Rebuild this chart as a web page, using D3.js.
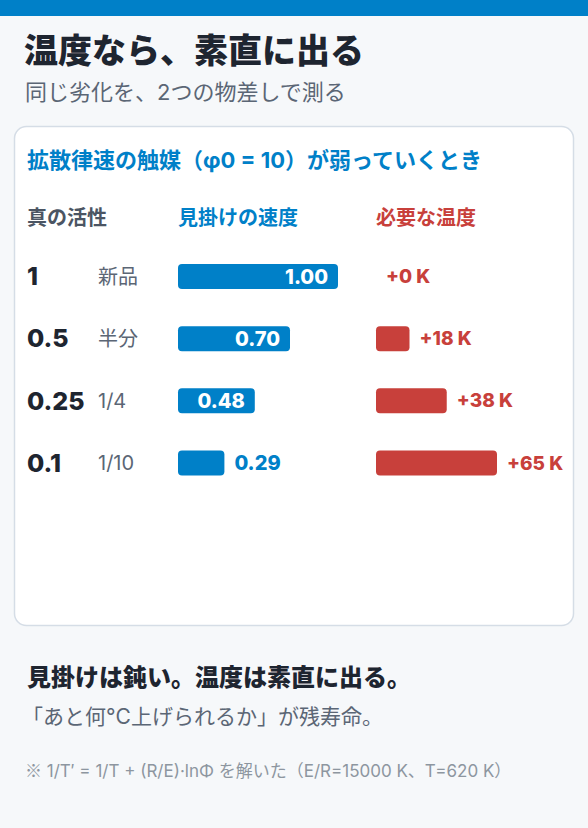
<!DOCTYPE html>
<html>
<head>
<meta charset="utf-8">
<script src="https://cdn.jsdelivr.net/npm/d3@7"></script>
<style>
  body { margin: 0; background: #f6f8fa; }
  svg { display: block; font-family: Inter, "Noto Sans CJK JP", sans-serif; }
</style>
</head>
<body>
<svg id="chart"></svg>
<script>
// chart data
const activity = ["1", "0.5", "0.25", "0.1"];
const activityNote = ["新品", "半分", "1/4", "1/10"];
const apparentRate = [1.00, 0.70, 0.48, 0.29];
const tempRise = [0, 18, 38, 65];
const headers = ["真の活性", "見掛けの速度", "必要な温度"];

const width = 588, height = 828;
const blue = "#0080c8", red = "#c8403b";

const svg = d3.select("#chart")
    .attr("width", width)
    .attr("height", height);

svg.append("rect")
    .attr("width", width).attr("height", height)
    .attr("fill", "#f6f8fa");

// top band
svg.append("rect")
    .attr("width", width).attr("height", 16)
    .attr("fill", blue);

// headline
svg.append("text")
    .attr("x", 24).attr("y", 51)
    .attr("dy", "0.35em")
    .attr("font-size", 34).attr("font-weight", 900)
    .attr("fill", "#1e2530")
    .text("温度なら、素直に出る");

svg.append("text")
    .attr("x", 25).attr("y", 92)
    .attr("dy", "0.35em")
    .attr("font-size", 22)
    .attr("fill", "#5b6675")
    .text("同じ劣化を、2つの物差しで測る");

// card
svg.append("rect")
    .attr("x", 14.5).attr("y", 126.5)
    .attr("width", 559).attr("height", 499)
    .attr("rx", 12)
    .attr("fill", "#fff")
    .attr("stroke", "#d5dde6")
    .attr("stroke-width", 1.5);

svg.append("text")
    .attr("x", 27).attr("y", 160)
    .attr("dy", "0.35em")
    .attr("font-size", 22).attr("font-weight", 700)
    .attr("fill", blue)
    .text("拡散律速の触媒（φ0 = 10）が弱っていくとき");

// column headers
const colX = [27, 178, 376];
const colColor = ["#4b5563", blue, red];
svg.selectAll(".col-head")
    .data(headers)
    .enter().append("text")
    .attr("class", "col-head")
    .attr("x", (d, i) => colX[i])
    .attr("y", 218)
    .attr("dy", "0.35em")
    .attr("font-size", 20).attr("font-weight", 700)
    .attr("fill", (d, i) => colColor[i])
    .text(d => d);

// scales
const y = d3.scalePoint()
    .domain(activity)
    .range([276.5, 463]);

const xRate = d3.scaleLinear()
    .domain([0, 1])
    .range([0, 160]);

const xTemp = d3.scaleLinear()
    .domain([0, 65])
    .range([0, 121]);

const barH = 25;

const rows = activity.map((a, i) => ({
    a: a, note: activityNote[i], rate: apparentRate[i], dT: tempRise[i]
}));

const row = svg.selectAll(".row")
    .data(rows)
    .enter().append("g")
    .attr("class", "row")
    .attr("transform", d => "translate(0," + y(d.a) + ")");

row.append("text")
    .attr("x", 27)
    .attr("dy", "0.35em")
    .attr("font-size", 25).attr("font-weight", 800)
    .attr("fill", "#1e2530")
    .text(d => d.a);

row.append("text")
    .attr("x", 98)
    .attr("dy", "0.35em")
    .attr("font-size", 20)
    .attr("fill", "#5b6675")
    .text(d => d.note);

// apparent rate bars
row.append("rect")
    .attr("x", colX[1])
    .attr("y", -barH / 2)
    .attr("width", d => xRate(d.rate))
    .attr("height", barH)
    .attr("rx", 4)
    .attr("fill", blue);

row.append("text")
    .attr("x", d => {
        const w = xRate(d.rate);
        return w > 60 ? colX[1] + w - 10 : colX[1] + w + 10;
    })
    .attr("text-anchor", d => xRate(d.rate) > 60 ? "end" : "start")
    .attr("dy", "0.35em")
    .attr("font-size", 20).attr("font-weight", 800)
    .attr("fill", d => xRate(d.rate) > 60 ? "#fff" : blue)
    .text(d => d3.format(".2f")(d.rate));

// temperature bars
row.filter(d => d.dT > 0).append("rect")
    .attr("x", colX[2])
    .attr("y", -barH / 2)
    .attr("width", d => xTemp(d.dT))
    .attr("height", barH)
    .attr("rx", 4)
    .attr("fill", red);

row.append("text")
    .attr("x", d => colX[2] + xTemp(d.dT) + 10)
    .attr("dy", "0.35em")
    .attr("font-size", 19).attr("font-weight", 800)
    .attr("fill", red)
    .text(d => "+" + d.dT + " K");

// takeaway
svg.append("text")
    .attr("x", 27).attr("y", 678)
    .attr("dy", "0.35em")
    .attr("font-size", 24).attr("font-weight", 800)
    .attr("fill", "#1e2530")
    .text("見掛けは鈍い。温度は素直に出る。");

svg.append("text")
    .attr("x", 22).attr("y", 717)
    .attr("dy", "0.35em")
    .attr("font-size", 21)
    .attr("fill", "#5b6675")
    .text("「あと何°C上げられるか」が残寿命。");

const note = svg.append("text")
    .attr("x", 25).attr("y", 771)
    .attr("dy", "0.35em")
    .attr("font-size", 17)
    .attr("fill", "#8d96a0");
note.append("tspan")
    .attr("font-family", "'Noto Sans CJK JP'")
    .text("※");
note.append("tspan")
    .text(" 1/T′ = 1/T + (R/E)·lnΦ を解いた（E/R=15000 K、T=620 K）");
</script>
</body>
</html>
